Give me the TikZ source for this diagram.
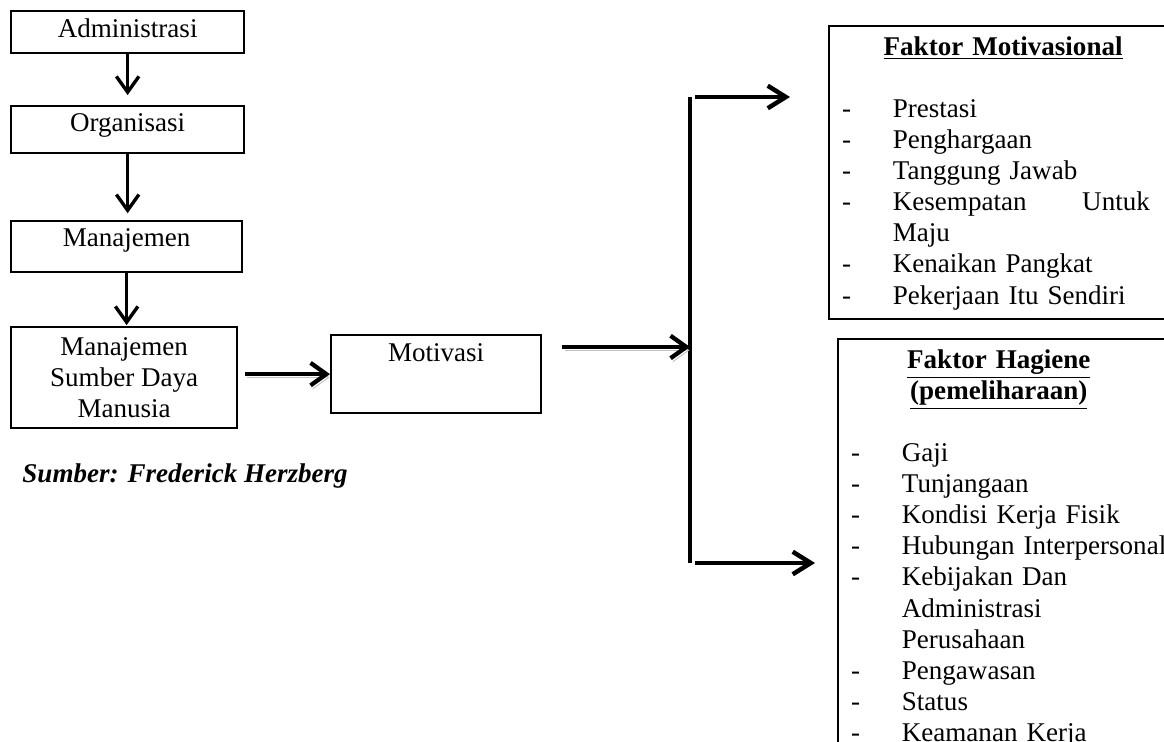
\documentclass[tikz,border=0pt]{standalone}
\usepackage{fontspec}
\setmainfont{Liberation Serif}
\usetikzlibrary{arrows.meta}
\tikzstyle{stage} = [rectangle, anchor=north west, draw=black, line width=1pt, inner ysep=0pt, inner xsep=2pt, align=center, font=\fontsize{12}{13.8}\selectfont]
\tikzstyle{factor} = [rectangle, anchor=north west, draw=black, line width=1pt, inner xsep=5.8pt, inner ysep=0pt, text width=150pt, align=left, text height=12.9pt, font=\fontsize{12}{13.8}\selectfont]
\tikzstyle{arrow} = [line width=1.5pt, -{Straight Barb[length=7pt, width=10pt]}]
\tikzstyle{shadowarrow} = [line width=1.9pt, -{Straight Barb[length=7pt, width=10pt]}, preaction={draw=gray!50, transform canvas={xshift=1pt, yshift=-1.5pt}}]
\tikzstyle{branch} = [line width=2pt, -{Straight Barb[length=8pt, width=10pt]}]
\newcommand{\butir}{\makebox[22.5pt][l]{-}}

\begin{document}
\begin{tikzpicture}[x=0.0156cm, y=-0.0156cm]
   \useasboundingbox (0,0) rectangle (1164,742);
   \clip (0,0) rectangle (1164,742);
   % alur kiri
   \node (adm) [stage, minimum width=103.4pt, text height=11.5pt, text depth=7.1pt] at (10,10) {Administrasi};
   \node (org) [stage, minimum width=103.4pt, text height=11.1pt, text depth=9.8pt] at (10,105) {Organisasi};
   \node (man) [stage, minimum width=102.5pt, text height=11.1pt, text depth=11.5pt] at (10,220) {Manajemen};
   \node (msdm) [stage, minimum width=100.3pt, minimum height=44.8pt] at (10,326) {Manajemen\\Sumber Daya\\Manusia};
   \node (motivasi) [stage, minimum width=93.2pt, text height=11.5pt, text depth=23.1pt] at (330,334) {Motivasi};
   \node (sumber) [anchor=base west, inner sep=0pt, font=\fontsize{12}{13.8}\selectfont\bfseries\itshape] at (22,482) {Sumber: Frederick Herzberg};
   \draw [arrow, shorten >=4.4pt] (adm.south) -- (adm.south |- org.north);
   \draw [arrow, shorten >=3pt] (org.south) -- (org.south |- man.north);
   \draw [arrow, shorten >=0.4pt] (man.south) -- (man.south |- msdm.north);
   \draw [shadowarrow, shorten <=3pt] (motivasi.west -| msdm.east) -- (motivasi.west);
   % percabangan
   \coordinate (split) at (690,347);
   \coordinate (splittop) at (690,97);
   \coordinate (splitbot) at (690,563);
   \coordinate (toptip) at (790,97);
   \coordinate (bottip) at (815,563);
   \draw [line width=1.4pt] (splittop) -- (splitbot);
   \draw [shadowarrow, shorten <=8.9pt] (motivasi.east |- split) -- (split);
   \draw [branch, shorten <=2.2pt] (splittop) -- (toptip);
   \draw [branch, shorten <=2.2pt] (splitbot) -- (bottip);
   % faktor
   \node (motivasional) [factor, text depth=117.1pt] at (828,25) {\makebox[142.8pt]{\textbf{\underline{Faktor Motivasional}}}\\
      \mbox{}\\
      \butir Prestasi\\
      \butir Penghargaan\\
      \butir Tanggung Jawab\\
      \butir\makebox[114pt][s]{Kesempatan\hfill Untuk}\\
      \hspace*{22.5pt}Maju\\
      \butir Kenaikan Pangkat\\
      \butir Pekerjaan Itu Sendiri};
   \node (hagiene) [factor, text depth=186pt] at (837,338) {\makebox[131pt]{\textbf{\underline{Faktor Hagiene}}}\\
      \makebox[131pt]{\textbf{\underline{(pemeliharaan)}}}\\
      \mbox{}\\
      \butir Gaji\\
      \butir Tunjangaan\\
      \butir Kondisi Kerja Fisik\\
      \butir Hubungan Interpersonal\\
      \butir Kebijakan Dan\\
      \hspace*{22.5pt}Administrasi\\
      \hspace*{22.5pt}Perusahaan\\
      \butir Pengawasan\\
      \butir Status\\
      \butir Keamanan Kerja};
\end{tikzpicture}
\end{document}
